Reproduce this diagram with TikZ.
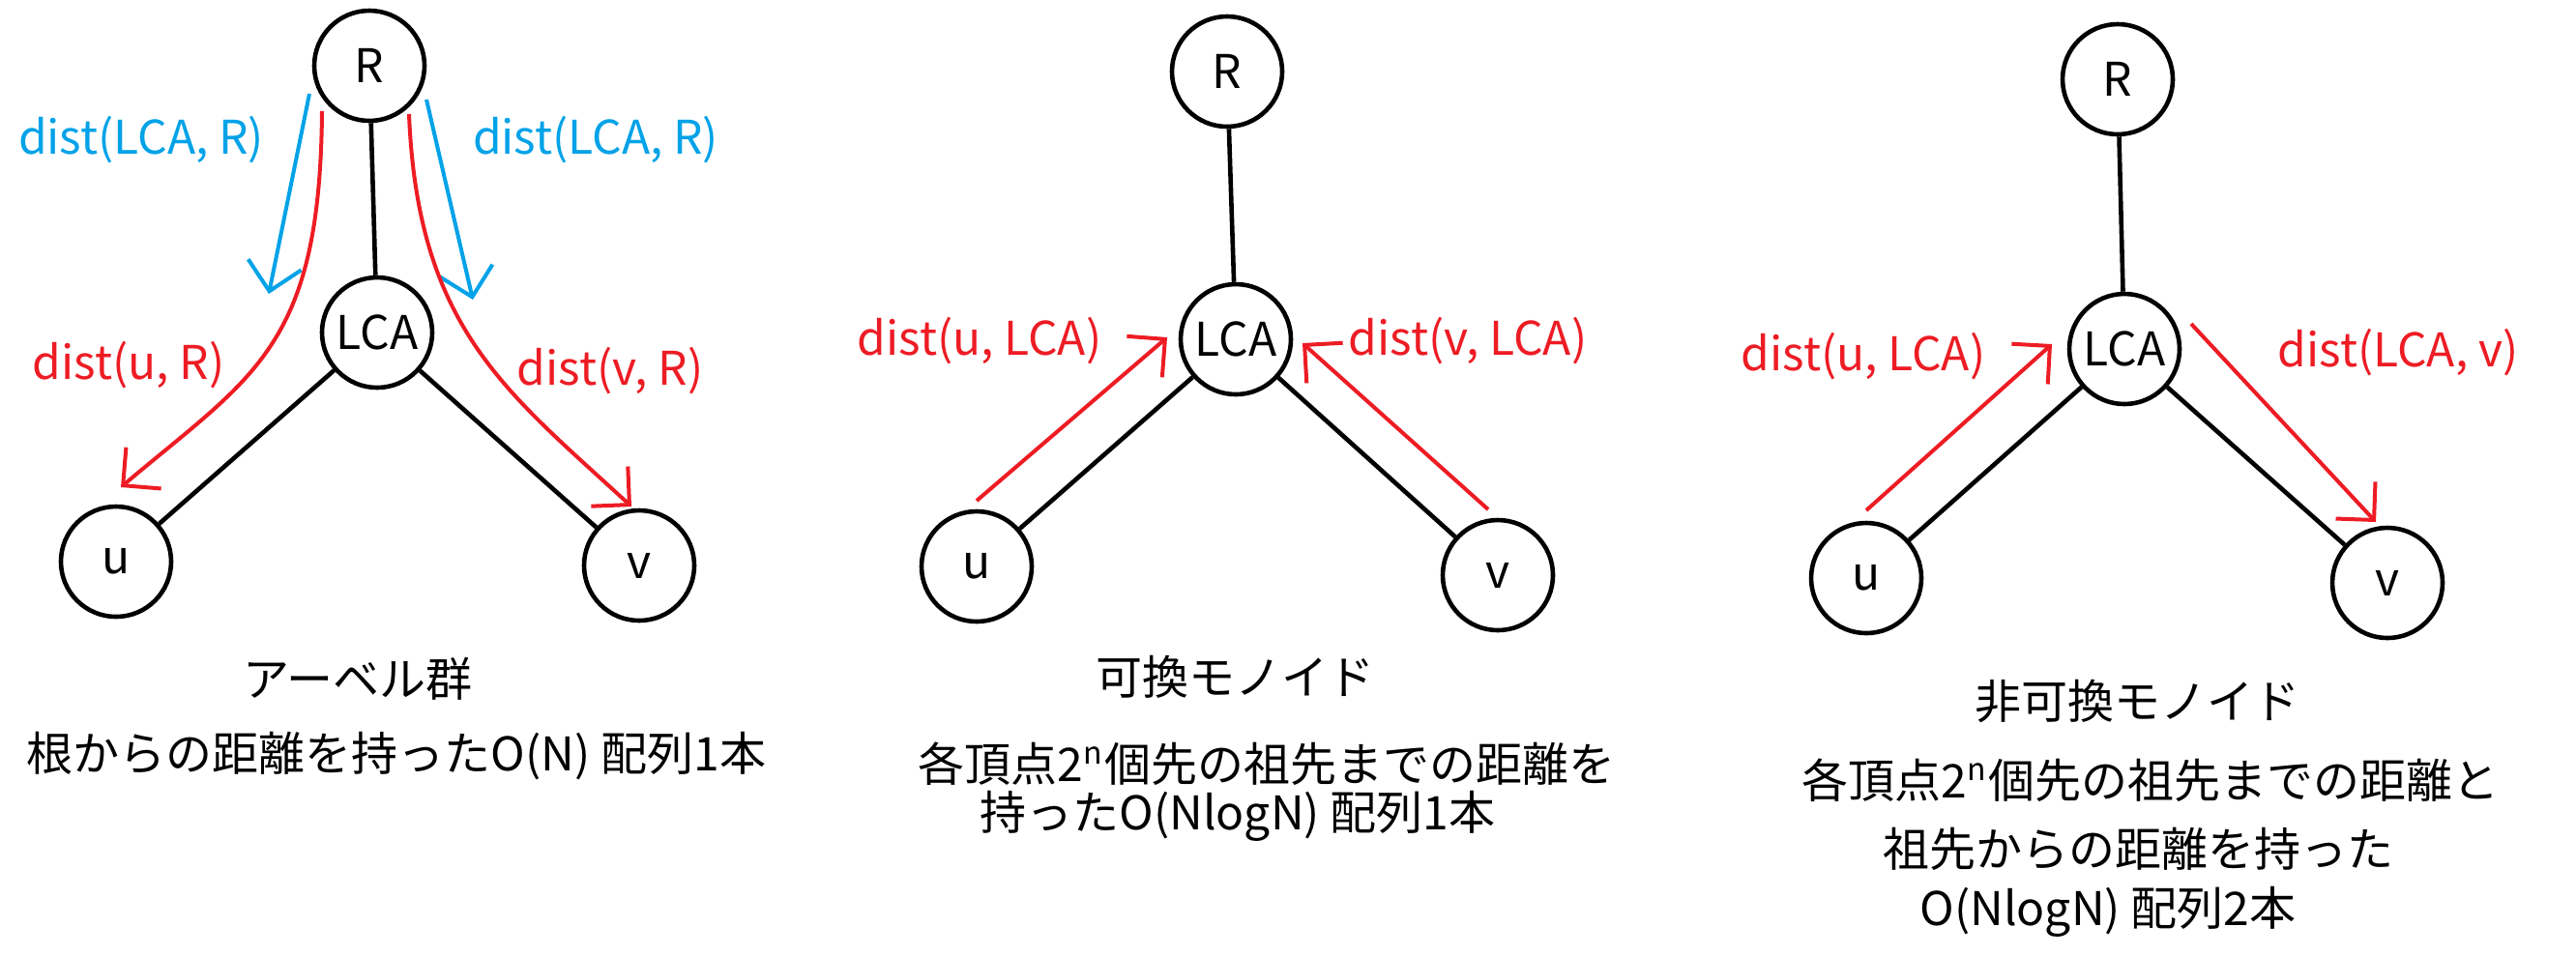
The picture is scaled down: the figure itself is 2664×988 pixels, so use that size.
\documentclass[tikz,border=0pt]{standalone}
\usepackage{fontspec}
\setmainfont{Noto Sans CJK JP}
\usetikzlibrary{arrows.meta}
\definecolor{pblue}{HTML}{00A2E8}
\definecolor{pred}{HTML}{ED1C24}
\tikzset{
  vtx/.style={circle,draw=black,line width=1.15pt,minimum size=28.5pt,inner sep=0pt,font=\fontsize{12}{14}\selectfont},
  edge/.style={draw=black,line width=1.15pt},
  redarr/.style={draw=pred,line width=1pt,-{Straight Barb[length=7pt,width=14pt]}},
  bluearr/.style={draw=pblue,line width=1pt,-{Straight Barb[length=7pt,width=14pt]}},
  lbl/.style={inner sep=0pt,font=\fontsize{12}{14}\selectfont},
  captxt/.style={inner sep=0pt,font=\fontsize{12}{14}\selectfont}
}
\begin{document}
\begin{tikzpicture}[x=0.25pt,y=-0.25pt]
\useasboundingbox (0,0) rectangle (2664,988);
% ---------- panel 1 ----------
\node[vtx] (R1) at (382,68) {R};
\node[vtx] (L1) at (390,344) {LCA};
\node[vtx] (u1) at (120,581) {u};
\node[vtx] (v1) at (661,585) {v};
\draw[edge] (R1) -- (L1);
\draw[edge] (L1) -- (u1);
\draw[edge] (L1) -- (v1);
\coordinate (b1s) at (320,97); \coordinate (b1e) at (278,304);
\coordinate (b2s) at (441,103); \coordinate (b2e) at (489,310);
\draw[bluearr] (b1s) -- (b1e);
\draw[bluearr] (b2s) -- (b2e);
\coordinate (r1s) at (333,115); \coordinate (r1e) at (125,504);
\coordinate (r2s) at (423,118); \coordinate (r2e) at (653,524);
\draw[redarr] (r1s) .. controls (331,360) and (262,388) .. (r1e);
\draw[redarr] (r2s) .. controls (432,340) and (524,405) .. (r2e);
\node[lbl,text=pblue] (lb1) at (146,145) {dist(LCA, R)};
\node[lbl,text=pblue] (lb2) at (616,145) {dist(LCA, R)};
\node[lbl,text=pred] (lr1) at (133,378) {dist(u, R)};
\node[lbl,text=pred] (lr2) at (631,384) {dist(v, R)};
\node[captxt] (t1a) at (370,702) {アーベル群};
\node[captxt] (t1b) at (410,782) {根からの距離を持ったO(N) 配列1本};
% ---------- panel 2 ----------
\node[vtx] (R2) at (1269,74) {R};
\node[vtx] (L2) at (1278,351) {LCA};
\node[vtx] (u2) at (1010,586) {u};
\node[vtx] (v2) at (1549,595) {v};
\draw[edge] (R2) -- (L2);
\draw[edge] (L2) -- (u2);
\draw[edge] (L2) -- (v2);
\coordinate (p2a) at (1010,518); \coordinate (p2b) at (1207,349);
\coordinate (p2c) at (1539,527); \coordinate (p2d) at (1347,355);
\draw[redarr] (p2a) -- (p2b);
\draw[redarr] (p2c) -- (p2d);
\node[lbl,text=pred] (l2a) at (1013,353) {dist(u, LCA)};
\node[lbl,text=pred] (l2b) at (1518,353) {dist(v, LCA)};
\node[captxt] (t2a) at (1277,700) {可換モノイド};
\node[captxt] (t2b) at (1310,790) {各頂点2\textsuperscript{n}個先の祖先までの距離を};
\node[captxt] (t2c) at (1280,844) {持ったO(NlogN) 配列1本};
% ---------- panel 3 ----------
\node[vtx] (R3) at (2190,82) {R};
\node[vtx] (L3) at (2197,361) {LCA};
\node[vtx] (u3) at (1930,598) {u};
\node[vtx] (v3) at (2469,603) {v};
\draw[edge] (R3) -- (L3);
\draw[edge] (L3) -- (u3);
\draw[edge] (L3) -- (v3);
\coordinate (p3a) at (1930,528); \coordinate (p3b) at (2122,356);
\coordinate (p3c) at (2266,335); \coordinate (p3d) at (2457,540);
\draw[redarr] (p3a) -- (p3b);
\draw[redarr] (p3c) -- (p3d);
\node[lbl,text=pred] (l3a) at (1927,369) {dist(u, LCA)};
\node[lbl,text=pred] (l3b) at (2480,365) {dist(LCA, v)};
\node[captxt] (t3a) at (2210,725) {非可換モノイド};
\node[captxt] (t3b) at (2224,807) {各頂点2\textsuperscript{n}個先の祖先までの距離と};
\node[captxt] (t3c) at (2211,878) {祖先からの距離を持った};
\node[captxt] (t3d) at (2180,943) {O(NlogN) 配列2本};
\end{tikzpicture}
\end{document}
